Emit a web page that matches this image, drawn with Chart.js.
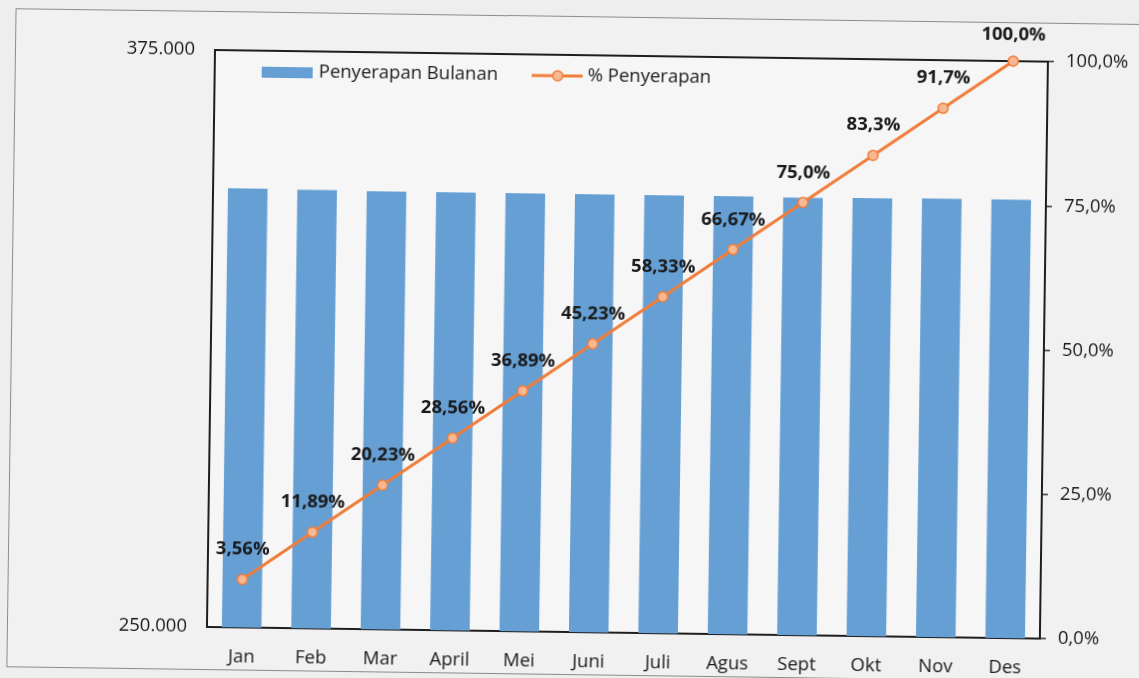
<!DOCTYPE html>
<html>
<head>
<meta charset="utf-8">
<script src="https://cdn.jsdelivr.net/npm/chart.js@4.4.1/dist/chart.umd.min.js"></script>
<style>
  html, body { margin: 0; padding: 0; background: #eeeeee; overflow: hidden; }
  #stage {
    position: absolute; left: 0; top: 0; width: 1139px; height: 678px;
    transform: rotate(0.8deg); transform-origin: 50% 50%;
  }
  #frame {
    position: absolute; left: 11px; top: 16px; width: 1200px; height: 657px;
    border: 1px solid #8c8c8c; background: #f1f1f1;
  }
  #chart { position: absolute; left: 0; top: 0; }
</style>
</head>
<body>
<div id="stage">
  <div id="frame"></div>
  <canvas id="chart" width="1139" height="678"></canvas>
</div>
<script>
const months = ['Jan', 'Feb', 'Mar', 'April', 'Mei', 'Juni', 'Juli', 'Agus', 'Sept', 'Okt', 'Nov', 'Des'];
const monthlyAbsorption = [345100, 345000, 344900, 344900, 344900, 344900, 344900, 344900, 344800, 344900, 345000, 345000];
const absorptionPct = [8.33, 16.67, 25, 33.33, 41.67, 50, 58.33, 66.67, 75, 83.33, 91.67, 100];
const pctLabels = ['3,56%', '11,89%', '20,23%', '28,56%', '36,89%', '45,23%', '58,33%', '66,67%', '75,0%', '83,3%', '91,7%', '100,0%'];
const leftTicks = [250000, 375000];

const FONT = '"Open Sans", "Liberation Sans", sans-serif';
const FS = 18.5;
const BAR_COLOR = '#659fd4';
const LINE_COLOR = '#f07d3a';
const MARKER_FILL = '#f7b893';
const TEXT_COLOR = '#1a1a1a';

// plot box + background
const boxPlugin = {
    id: 'box',
    beforeDatasetsDraw(chart) {
        const a = chart.chartArea;
        const ctx = chart.ctx;
        ctx.save();
        ctx.strokeStyle = '#1e1e1e';
        ctx.lineWidth = 2;
        ctx.strokeRect(a.left, a.top, a.right - a.left, a.bottom - a.top);
        ctx.restore();
    },
    beforeDraw(chart) {
        const a = chart.chartArea;
        const ctx = chart.ctx;
        ctx.save();
        ctx.fillStyle = '#f6f6f6';
        ctx.fillRect(a.left, a.top, a.right - a.left, a.bottom - a.top);
        ctx.restore();
    }
};

// bold value labels over the line points
const pointLabels = {
    id: 'pointLabels',
    afterDatasetsDraw(chart) {
        const meta = chart.getDatasetMeta(0);
        const ctx = chart.ctx;
        ctx.save();
        ctx.font = 'bold ' + FS + 'px ' + FONT;
        ctx.fillStyle = TEXT_COLOR;
        ctx.textAlign = 'center';
        ctx.textBaseline = 'middle';
        meta.data.forEach((pt, i) => {
            const dy = i === meta.data.length - 1 ? 26 : 30;
            ctx.fillText(pctLabels[i], pt.x, pt.y - dy);
        });
        ctx.restore();
    }
};

// legend drawn inside the plot area
const innerLegend = {
    id: 'innerLegend',
    afterDraw(chart) {
        const a = chart.chartArea;
        const ctx = chart.ctx;
        const y = a.top + 21;
        ctx.save();
        ctx.font = FS + 'px ' + FONT;
        ctx.textBaseline = 'middle';

        ctx.fillStyle = BAR_COLOR;
        ctx.fillRect(a.left + 47, y - 5, 51, 11);
        ctx.fillStyle = TEXT_COLOR;
        ctx.fillText(chart.data.datasets[1].label, a.left + 104, y);

        const lx = a.left + 317;
        ctx.strokeStyle = LINE_COLOR;
        ctx.lineWidth = 3;
        ctx.beginPath();
        ctx.moveTo(lx, y);
        ctx.lineTo(lx + 51, y);
        ctx.stroke();
        ctx.beginPath();
        ctx.arc(lx + 26, y, 5, 0, Math.PI * 2);
        ctx.fillStyle = MARKER_FILL;
        ctx.fill();
        ctx.lineWidth = 1.5;
        ctx.stroke();
        ctx.fillStyle = TEXT_COLOR;
        ctx.fillText(chart.data.datasets[0].label, lx + 56, y);
        ctx.restore();
    }
};

new Chart(document.getElementById('chart'), {
    type: 'bar',
    data: {
        labels: months,
        datasets: [
            {
                type: 'line',
                label: '% Penyerapan',
                data: absorptionPct,
                yAxisID: 'y1',
                borderColor: LINE_COLOR,
                borderWidth: 3,
                pointRadius: 5,
                pointBorderWidth: 1.5,
                pointBackgroundColor: MARKER_FILL,
                pointBorderColor: LINE_COLOR,
                tension: 0,
                clip: false
            },
            {
                label: 'Penyerapan Bulanan',
                data: monthlyAbsorption,
                yAxisID: 'y',
                backgroundColor: BAR_COLOR,
                barPercentage: 0.57,
                categoryPercentage: 1
            }
        ]
    },
    options: {
        responsive: false,
        animation: false,
        layout: { padding: { top: 55, left: 0, right: 0, bottom: 0 } },
        plugins: { legend: { display: false }, tooltip: { enabled: false } },
        scales: {
            x: {
                grid: { display: false },
                border: { display: false },
                ticks: { color: TEXT_COLOR, font: { family: FONT, size: FS }, padding: 11 },
                afterFit(scale) { scale.height = 46; }
            },
            y: {
                position: 'left',
                min: 250000,
                max: 375000,
                grid: { display: false },
                border: { display: false },
                afterBuildTicks(scale) { scale.ticks = leftTicks.map(v => ({ value: v })); },
                ticks: {
                    color: TEXT_COLOR,
                    font: { family: FONT, size: FS },
                    padding: 12,
                    callback: v => v.toLocaleString('de-DE')
                },
                afterFit(scale) { scale.width = 211; }
            },
            y1: {
                position: 'right',
                min: 0,
                max: 100,
                grid: { drawOnChartArea: false, tickLength: 6, color: '#333', lineWidth: 1.5 },
                border: { display: false },
                ticks: {
                    stepSize: 25,
                    color: TEXT_COLOR,
                    font: { family: FONT, size: FS },
                    padding: 12,
                    callback: v => v.toFixed(1).replace('.', ',') + '%'
                },
                afterFit(scale) { scale.width = 95; }
            }
        }
    },
    plugins: [boxPlugin, pointLabels, innerLegend]
});
</script>
</body>
</html>
